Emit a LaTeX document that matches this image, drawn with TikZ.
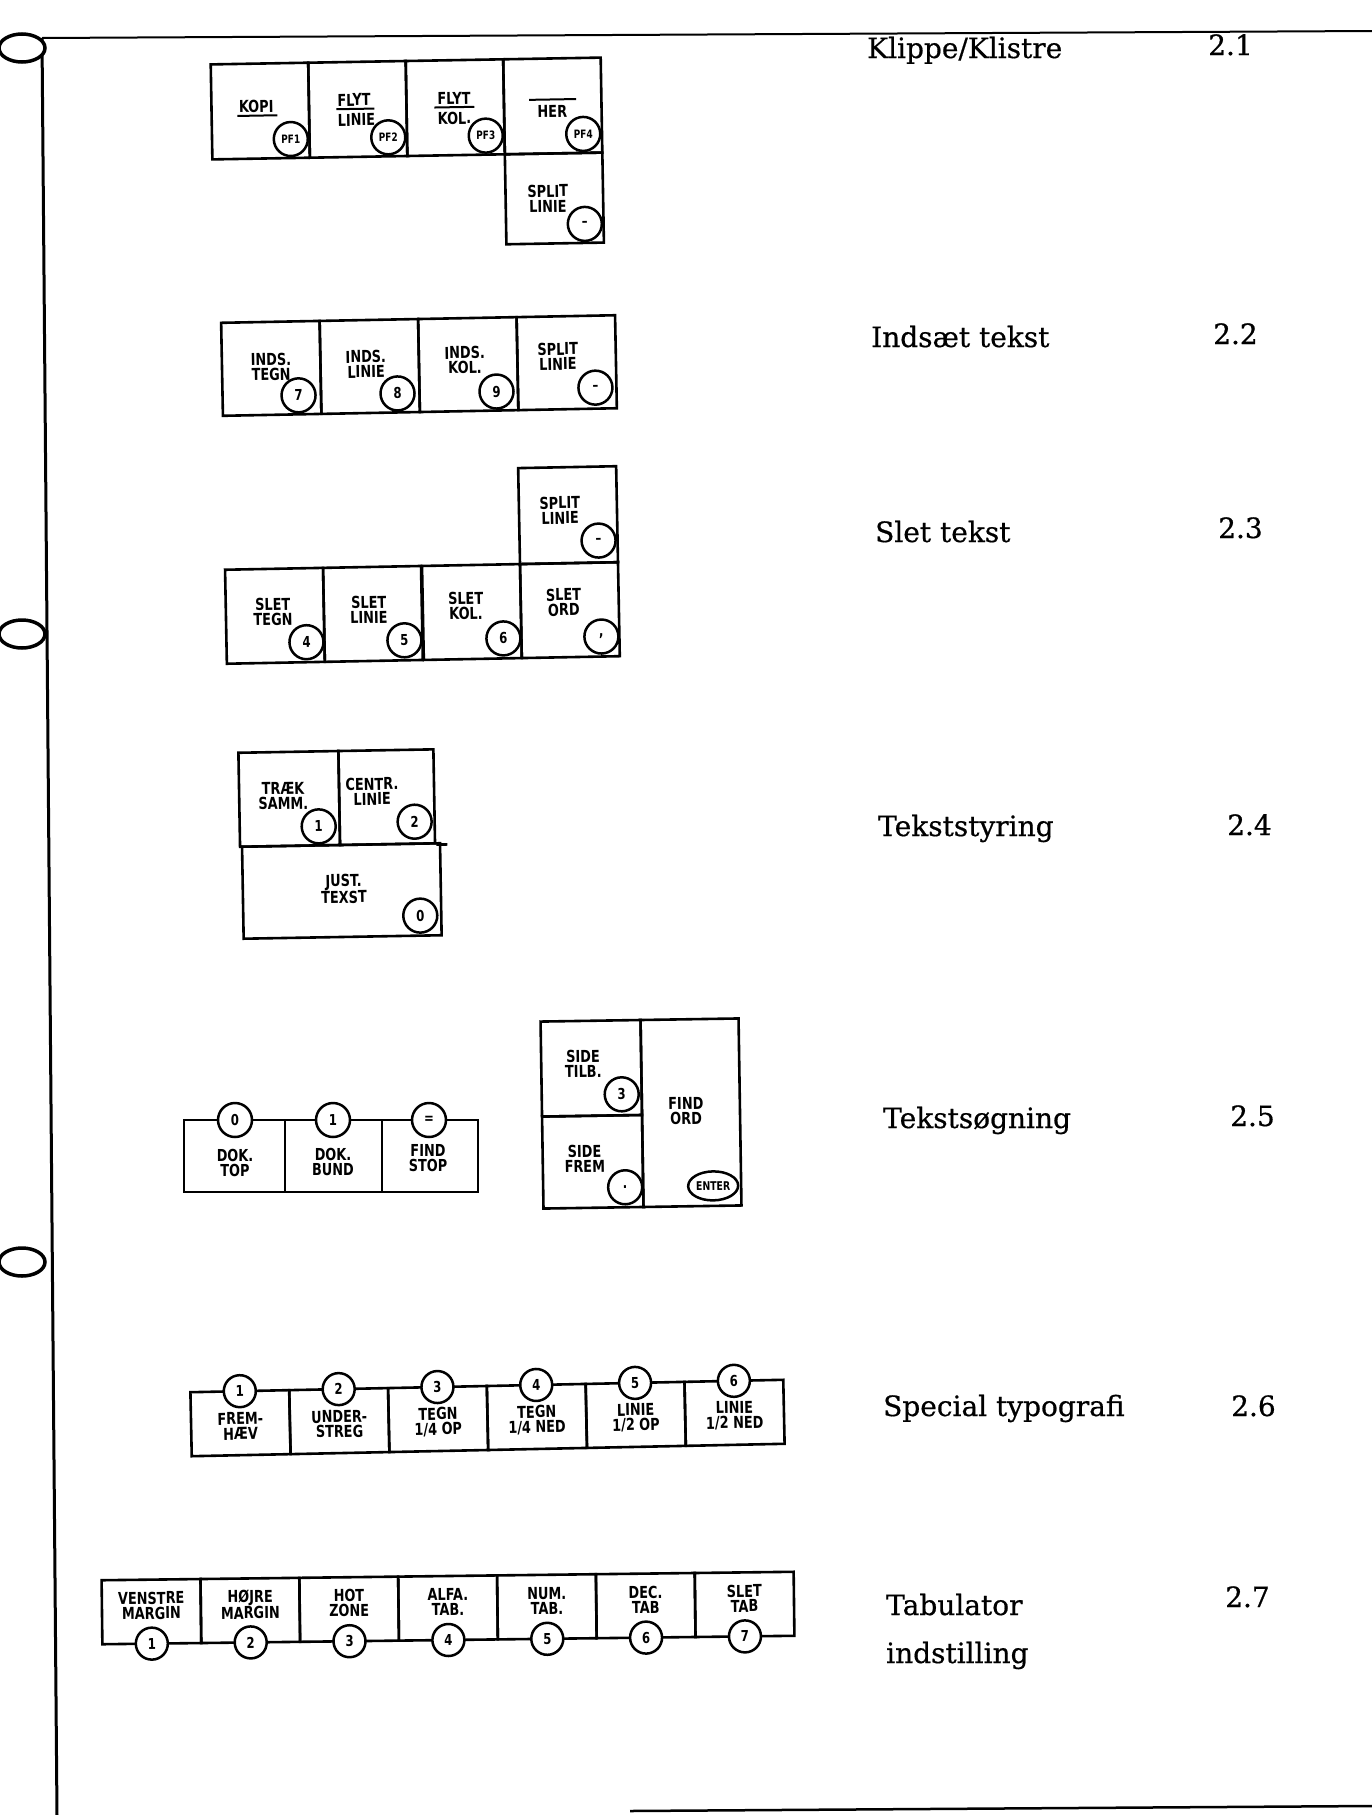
\documentclass[tikz,border=0pt]{standalone}
\usepackage{fontspec}
\setmainfont[FakeBold=0.6]{DejaVu Serif}
\newfontfamily\keyfont[FakeStretch=0.78]{DejaVu Sans}
\usetikzlibrary{shapes.geometric}
\tikzset{
  ksize/.style 2 args={minimum width=#1pt,minimum height=#2pt},
  keybox/.style={draw,line width=2.6pt,inner sep=0pt},
  klabel/.style={font=\keyfont\bfseries\fontsize{16.5}{15}\selectfont,align=center,inner sep=1pt},
  kcirc/.style={draw,circle,line width=2.5pt,fill=white,minimum size=34pt,inner sep=0pt,font=\keyfont\bfseries\fontsize{15}{15}\selectfont},
  scirc/.style={kcirc,minimum size=32pt},
  pfcirc/.style={kcirc,font=\keyfont\bfseries\fontsize{11.5}{11}\selectfont},
  uline/.style={line width=2pt},
  heading/.style={anchor=base west,font=\fontsize{28}{30}\selectfont,inner sep=0pt},
  border/.style={line width=3pt},
  ring/.style={draw,ellipse,line width=3.5pt,fill=white,minimum width=46pt,minimum height=28pt}
}
\begin{document}
\begin{tikzpicture}[x=1pt,y=-1pt]
\useasboundingbox (0,0) rectangle (1372,1815);

% page border
\draw[border] (42,38) -- (57,1815);
\draw[line width=2pt] (42,38) -- (1372,31);
\draw[line width=2.5pt] (630,1811) -- (1372,1806);

% ===== 2.1 Klippe/Klistre =====
\begin{scope}[rotate around={1:(407,150)},transform shape]
\node[keybox,ksize={97.5}{95}] (k11) at (261,108.5) {};
\node[keybox,ksize={97.5}{95}] (k12) at (358.5,108.5) {};
\node[keybox,ksize={97.5}{95}] (k13) at (456,108.5) {};
\node[keybox,ksize={97.5}{95}] (k14) at (553.5,108.5) {};
\node[keybox,ksize={97.5}{90}] (k15) at (553.5,201) {};
\node[klabel] (t11) at (257,104) {KOPI};
\draw[uline] (238,113) -- (278,113);
\node[klabel] (t12a) at (355,99) {FLYT};
\draw[uline] (337,108) -- (375,108);
\node[klabel] (t12b) at (357,119) {LINIE};
\node[klabel] (t13a) at (455,99) {FLYT};
\draw[uline] (435,108) -- (475,108);
\node[klabel] (t13b) at (455,119) {KOL.};
\draw[uline] (530,102) -- (577,102);
\node[klabel] (t14) at (553,114) {HER};
\node[klabel] (t15) at (547,201) {SPLIT\\LINIE};
\node[pfcirc] (c11) at (291,137) {PF1};
\node[pfcirc] (c12) at (388.5,137) {PF2};
\node[pfcirc] (c13) at (486,137) {PF3};
\node[pfcirc] (c14) at (583.5,137) {PF4};
\node[kcirc] (c15) at (583.5,227) {–};
\end{scope}

% ===== 2.2 Indsæt tekst =====
\begin{scope}[rotate around={1.1:(420,366)},transform shape]
\node[keybox,ksize={98.5}{93}] (k21) at (271.25,365.5) {};
\node[keybox,ksize={98.5}{93}] (k22) at (369.75,365.5) {};
\node[keybox,ksize={98.5}{93}] (k23) at (468.25,365.5) {};
\node[keybox,ksize={98.5}{93}] (k24) at (566.75,365.5) {};
\node[klabel] (t21) at (271,364) {INDS.\\TEGN};
\node[klabel] (t22) at (366,363) {INDS.\\LINIE};
\node[klabel] (t23) at (465,361) {INDS.\\KOL.};
\node[klabel] (t24) at (558,359) {SPLIT\\LINIE};
\node[kcirc] (c21) at (298,393) {7};
\node[kcirc] (c22) at (397,393) {8};
\node[kcirc] (c23) at (496,393) {9};
\node[kcirc] (c24) at (595,391) {–};
\end{scope}

% ===== 2.3 Slet tekst =====
\begin{scope}[rotate around={1.1:(420,565)},transform shape]
\node[keybox,ksize={98}{96}] (k30) at (569,518) {};
\node[keybox,ksize={98}{94}] (k31) at (274,613) {};
\node[keybox,ksize={98}{94}] (k32) at (372,613) {};
\node[keybox,ksize={98}{94}] (k33) at (471,613) {};
\node[keybox,ksize={98}{94}] (k34) at (569,613) {};
\node[klabel] (t30) at (561,513) {SPLIT\\LINIE};
\node[klabel] (t31) at (272,609) {SLET\\TEGN};
\node[klabel] (t32) at (368,609) {SLET\\LINIE};
\node[klabel] (t33) at (465,607) {SLET\\KOL.};
\node[klabel] (t34) at (563,605) {SLET\\ORD};
\node[kcirc] (c30) at (599,544) {–};
\node[kcirc] (c31) at (305,640) {4};
\node[kcirc] (c32) at (403,640) {5};
\node[kcirc] (c33) at (502,640) {6};
\node[kcirc] (c34) at (600,640) {,};
\end{scope}

% ===== 2.4 Tekststyring =====
\begin{scope}[rotate around={1:(340,843)},transform shape]
\node[keybox,ksize={100}{94}] (k41) at (290,798) {};
\node[keybox,ksize={95}{94}] (k42) at (387.5,798) {};
\node[keybox,ksize={198}{92}] (k43) at (341,891) {};
\draw[line width=2.6pt] (k42.south east) -- ++(11,0);
\node[klabel] (t41) at (284,795) {TRÆK\\SAMM.};
\node[klabel] (t42) at (373,792) {CENTR.\\LINIE};
\node[klabel] (t43) at (343,889) {JUST.\\TEXST};
\node[kcirc] (c41) at (319,826) {1};
\node[kcirc] (c42) at (415,823) {2};
\node[kcirc] (c43) at (419,917) {0};
\end{scope}

% ===== 2.5 Tekstsøgning (left) =====
\node[keybox,ksize={101}{72}] (k51) at (234.5,1156) {};
\node[keybox,ksize={97}{72}] (k52) at (333.5,1156) {};
\node[keybox,ksize={96}{72}] (k53) at (430,1156) {};
\node[kcirc] (c51) at (235,1120) {0};
\node[kcirc] (c52) at (333,1120) {1};
\node[kcirc] (c53) at (429,1120) {=};
\node[klabel] (t51) at (235,1163) {DOK.\\TOP};
\node[klabel] (t52) at (333,1162) {DOK.\\BUND};
\node[klabel] (t53) at (428,1158) {FIND\\STOP};

% ===== 2.5 Tekstsøgning (right) =====
\begin{scope}[rotate around={0.9:(641,1113)},transform shape]
\node[keybox,ksize={100}{95}] (k54) at (592,1067.5) {};
\node[keybox,ksize={100}{92}] (k55) at (592,1161) {};
\node[keybox,ksize={98}{187}] (k56) at (691,1113.5) {};
\node[klabel] (t54) at (584,1063) {SIDE\\TILB.};
\node[klabel] (t55) at (584,1158) {SIDE\\FREM};
\node[klabel] (t56) at (686,1112) {FIND\\ORD};
\node[kcirc] (c54) at (622,1094) {3};
\node[kcirc] (c55) at (624,1187) {.};
\node[draw,ellipse,line width=2.5pt,minimum width=50pt,minimum height=29pt,inner sep=0pt,
      font=\keyfont\bfseries\fontsize{12}{12}\selectfont] (c56) at (712,1187) {ENTER};
\end{scope}

% ===== 2.6 Special typografi =====
\begin{scope}[rotate around={1.2:(487,1418)},transform shape]
\node[keybox,ksize={98.8}{64}] (k61) at (240.4,1418) {};
\node[keybox,ksize={98.8}{64}] (k62) at (339.3,1418) {};
\node[keybox,ksize={98.8}{64}] (k63) at (438.1,1418) {};
\node[keybox,ksize={98.8}{64}] (k64) at (536.9,1418) {};
\node[keybox,ksize={98.8}{64}] (k65) at (635.8,1418) {};
\node[keybox,ksize={98.8}{64}] (k66) at (734.6,1418) {};
\node[klabel] (t61) at (240.4,1421) {FREM-\\HÆV};
\node[klabel] (t62) at (339.3,1421) {UNDER-\\STREG};
\node[klabel] (t63) at (438.1,1421) {TEGN\\1/4 OP};
\node[klabel] (t64) at (536.9,1421) {TEGN\\1/4 NED};
\node[klabel] (t65) at (635.8,1421) {LINIE\\1/2 OP};
\node[klabel] (t66) at (734.6,1421) {LINIE\\1/2 NED};
\node[scirc] (c61) at (240.4,1386) {1};
\node[scirc] (c62) at (339.3,1386) {2};
\node[scirc] (c63) at (438.1,1386) {3};
\node[scirc] (c64) at (536.9,1386) {4};
\node[scirc] (c65) at (635.8,1386) {5};
\node[scirc] (c66) at (734.6,1386) {6};
\end{scope}

% ===== 2.7 Tabulator indstilling =====
\begin{scope}[rotate around={0.7:(448,1608)},transform shape]
\node[keybox,ksize={98.9}{64}] (k71) at (151.4,1608) {};
\node[keybox,ksize={98.9}{64}] (k72) at (250.3,1608) {};
\node[keybox,ksize={98.9}{64}] (k73) at (349.1,1608) {};
\node[keybox,ksize={98.9}{64}] (k74) at (448,1608) {};
\node[keybox,ksize={98.9}{64}] (k75) at (546.9,1608) {};
\node[keybox,ksize={98.9}{64}] (k76) at (645.7,1608) {};
\node[keybox,ksize={98.9}{64}] (k77) at (744.6,1608) {};
\node[klabel] (t71) at (151.4,1602) {VENSTRE\\MARGIN};
\node[klabel] (t72) at (250.3,1602) {HØJRE\\MARGIN};
\node[klabel] (t73) at (349.1,1602) {HOT\\ZONE};
\node[klabel] (t74) at (448,1602) {ALFA.\\TAB.};
\node[klabel] (t75) at (546.9,1602) {NUM.\\TAB.};
\node[klabel] (t76) at (645.7,1602) {DEC.\\TAB};
\node[klabel] (t77) at (744.6,1602) {SLET\\TAB};
\node[scirc] (c71) at (151.4,1640) {1};
\node[scirc] (c72) at (250.3,1640) {2};
\node[scirc] (c73) at (349.1,1640) {3};
\node[scirc] (c74) at (448,1640) {4};
\node[scirc] (c75) at (546.9,1640) {5};
\node[scirc] (c76) at (645.7,1640) {6};
\node[scirc] (c77) at (744.6,1640) {7};
\end{scope}

% ===== headings =====
\node[heading] (h1) at (867,58) {Klippe/Klistre};
\node[heading] (n1) at (1208,55) {2.1};
\node[heading] (h2) at (871,347) {Indsæt tekst};
\node[heading] (n2) at (1213,344) {2.2};
\node[heading] (h3) at (875,542) {Slet tekst};
\node[heading] (n3) at (1218,538) {2.3};
\node[heading] (h4) at (878,836) {Tekststyring};
\node[heading] (n4) at (1227,835) {2.4};
\node[heading] (h5) at (883,1128) {Tekstsøgning};
\node[heading] (n5) at (1230,1126) {2.5};
\node[heading] (h6) at (883,1416) {Special typografi};
\node[heading] (n6) at (1231,1416) {2.6};
\node[heading] (h7a) at (886,1615) {Tabulator};
\node[heading] (h7b) at (886,1663) {indstilling};
\node[heading] (n7) at (1225,1607) {2.7};

% ===== binder rings =====
\node[ring] (r1) at (22,48) {};
\node[ring] (r2) at (22,634) {};
\node[ring] (r3) at (22,1262) {};
\end{tikzpicture}
\end{document}
